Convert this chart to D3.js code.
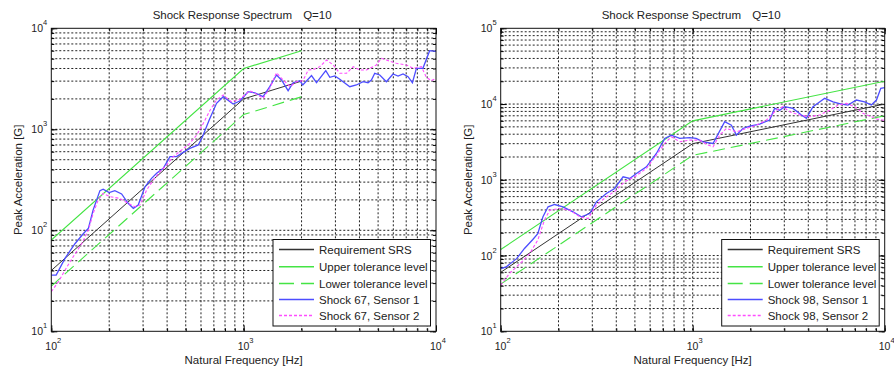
<!DOCTYPE html>
<html lang="en">
<head>
  <meta charset="UTF-8">
  <title>Shock Response Spectrum Q=10</title>
  <style>
    body { margin: 0; background: #fff; }
    text { font-family: Arial, "Liberation Sans", sans-serif; fill: #222; }
  </style>
</head>
<body>
  <svg id="chart" width="894" height="369"></svg>

  <script src="https://d3js.org/d3.v7.min.js"></script>
  <script>
    // ---- left panel (shock 67) : [frequency Hz, acceleration G]
    const reqLeft = [[100, 40], [1000, 2000], [2000, 3000]];
    const upperLeft = [[100, 80], [1000, 4000], [2000, 6000]];
    const lowerLeft = [[100, 28], [1000, 1400], [2000, 2100]];

    const shock67Sensor1 = [
      [100, 36], [106, 36], [118, 53], [133, 74], [147, 93], [156, 105], [165, 159],
      [179, 247], [186, 255], [200, 236], [214, 247], [232, 229], [251, 185], [267, 165],
      [283, 178], [307, 270], [332, 327], [353, 367], [382, 411], [414, 536], [448, 536],
      [476, 578], [525, 648], [581, 700], [611, 845], [662, 1236], [723, 1807], [783, 2104],
      [882, 1778], [955, 1905], [1055, 2356], [1143, 2300], [1262, 2104], [1367, 2643],
      [1482, 3450], [1573, 3075], [1703, 2410], [1808, 2890], [1958, 3027], [2030, 2750],
      [2253, 3400], [2392, 2892], [2673, 3802], [2805, 3273], [2977, 3372], [3160, 3127],
      [3563, 2642], [3857, 2747], [4178, 2958], [4434, 2892], [4616, 3076], [4804, 3584],
      [5100, 3450], [5521, 2958], [5977, 3530], [6350, 3372], [6740, 3530], [7155, 3318],
      [7540, 2892], [7910, 4018], [8550, 4018], [9270, 6000], [10000, 5900]
    ];
    const shock67Sensor2 = [
      [100, 24.7], [109, 31], [118, 40.5], [130, 54.8], [144, 74], [156, 100.7], [165, 147],
      [175.5, 200], [186, 232], [202, 215], [227, 207], [251, 185], [272, 171], [289, 178],
      [313, 250], [339, 315], [367, 380], [398, 443], [430, 536], [476, 623], [525, 726],
      [570, 879], [617, 1145], [670, 1552], [723, 1950], [783, 2188], [863, 1875], [955, 1982],
      [1076, 2410], [1166, 2230], [1262, 2028], [1367, 2547], [1482, 3630], [1573, 3200],
      [1743, 2643], [1877, 2958], [2033, 3027], [2167, 3864], [2334, 3940], [2488, 4170],
      [2698, 4850], [2920, 4336], [3160, 3584], [3428, 3584], [3710, 4170], [4015, 3864],
      [4349, 3864], [4896, 4336], [5200, 5045], [5521, 4850], [6220, 4500], [7015, 4336],
      [7620, 4018], [8395, 4170], [8914, 3273], [9463, 3027], [10000, 3200]
    ];

    // ---- right panel (shock 98)
    const reqRight = [[100, 60], [1000, 3000], [10000, 10000]];
    const upperRight = [[100, 120], [1000, 6000], [10000, 20000]];
    const lowerRight = [[100, 42], [1000, 2100], [10000, 7000]];

    const shock98Sensor1 = [
      [100, 67], [107, 71], [121, 91], [133, 124], [147, 163], [156, 195], [166, 325],
      [176.5, 440], [191, 472], [211, 440], [238, 378], [263, 325], [291, 359], [315, 512],
      [355, 659], [392, 768], [434, 1096], [470, 1042], [509, 1213], [574, 1486], [647, 2228],
      [715, 3515], [774, 3890], [856, 3515], [964, 3600], [1042, 3515], [1132, 3175],
      [1276, 3020], [1468, 5850], [1590, 5270], [1688, 3890], [1827, 4760], [1980, 5120],
      [2233, 5450], [2517, 6150], [2672, 8770], [2838, 8300], [3013, 9230], [3330, 8770],
      [3683, 7160], [3910, 6470], [4233, 9230], [4872, 11900], [5383, 10700], [5947, 10000],
      [6440, 9700], [7120, 11300], [7860, 10700], [8520, 9700], [9060, 11300], [9540, 16100],
      [10000, 16500]
    ];
    const shock98Sensor2 = [
      [100, 40.5], [111, 58], [126, 78], [141.5, 106], [156, 160], [169, 293], [180, 397],
      [203, 418], [229, 397], [258, 325], [285, 308], [315, 462], [355, 596], [400, 729],
      [442, 942], [499, 1096], [574, 1413], [647, 2118], [715, 3020], [774, 3700], [856, 3175],
      [964, 3340], [1086, 3340], [1202, 2870], [1276, 2730], [1383, 3890], [1496, 4760],
      [1688, 4300], [1906, 4760], [2148, 5270], [2421, 6150], [2727, 8300], [2950, 9230],
      [3197, 7930], [3606, 7160], [4065, 6810], [4580, 7160], [5170, 8300], [5715, 9700],
      [6310, 10200], [6980, 9230], [7710, 7540], [8520, 6810], [9230, 6270], [10000, 6100]
    ];

    const xDecades = [100, 1000, 10000];
    const legendNames = ["Requirement SRS", "Upper tolerance level", "Lower tolerance level"];

    const styles = {
      req:   { stroke: "#333", width: 1, dash: null },
      upper: { stroke: "#44e444", width: 1.1, dash: null },
      lower: { stroke: "#44e444", width: 1.1, dash: "12,6" },
      s1:    { stroke: "#4d4dff", width: 1.3, dash: null },
      s2:    { stroke: "#ff4dff", width: 1.1, dash: "3,2" }
    };

    const svg = d3.select("#chart");

    function drawPanel(p) {
      const x = d3.scaleLog().domain([100, 10000]).range([p.left, p.right]);
      const y = d3.scaleLog().domain(p.yDomain).range([p.bottom, p.top]);
      const g = svg.append("g");

      // minor / major values
      const minorsOf = domain => {
        const out = [];
        for (let d = domain[0]; d < domain[1]; d *= 10)
          for (let k = 1; k < 10; k++) out.push(d * k);
        out.push(domain[1]);
        return out;
      };
      const xAll = minorsOf([100, 10000]);
      const yAll = minorsOf(p.yDomain);
      const yDecades = yAll.filter(v => Math.abs(Math.log10(v) % 1) < 1e-9);

      // grid
      g.append("g").selectAll("line")
        .data(xAll.filter(v => v > 100 && v < 10000))
        .join("line")
        .attr("x1", d => x(d)).attr("x2", d => x(d))
        .attr("y1", p.top).attr("y2", p.bottom)
        .attr("stroke", "#222").attr("stroke-width", 1)
        .attr("stroke-dasharray", "2,2");
      g.append("g").selectAll("line")
        .data(yAll.filter(v => v > p.yDomain[0] && v < p.yDomain[1]))
        .join("line")
        .attr("x1", p.left).attr("x2", p.right)
        .attr("y1", d => y(d)).attr("y2", d => y(d))
        .attr("stroke", "#222").attr("stroke-width", 1)
        .attr("stroke-dasharray", "2,2");

      // tick marks on all four sides, inside
      const tickAxes = [
        [d3.axisBottom(x), `translate(0,${p.bottom})`, xAll, xDecades],
        [d3.axisTop(x), `translate(0,${p.top})`, xAll, xDecades],
        [d3.axisLeft(y), `translate(${p.left},0)`, yAll, yDecades],
        [d3.axisRight(y), `translate(${p.right},0)`, yAll, yDecades]
      ];
      tickAxes.forEach(([ax, tr, all, majors]) => {
        g.append("g").attr("transform", tr)
          .call(ax.tickValues(all).tickSize(-3).tickFormat(""))
          .call(s => s.select(".domain").remove());
        g.append("g").attr("transform", tr)
          .call(ax.tickValues(majors).tickSize(-6).tickFormat(""))
          .call(s => s.select(".domain").remove());
      });

      // series
      const line = d3.line().x(d => x(d[0])).y(d => y(d[1]));
      const series = [
        [p.req, styles.req], [p.upper, styles.upper], [p.lower, styles.lower],
        [p.s1, styles.s1], [p.s2, styles.s2]
      ];
      g.append("defs").append("clipPath").attr("id", p.id + "clip")
        .append("rect").attr("x", p.left).attr("y", p.top)
        .attr("width", p.right - p.left).attr("height", p.bottom - p.top);
      const sg = g.append("g").attr("clip-path", `url(#${p.id}clip)`);
      series.forEach(([data, st]) => {
        sg.append("path").datum(data)
          .attr("d", line)
          .attr("fill", "none")
          .attr("stroke", st.stroke)
          .attr("stroke-width", st.width)
          .attr("stroke-dasharray", st.dash);
      });

      // box
      g.append("rect")
        .attr("x", p.left).attr("y", p.top)
        .attr("width", p.right - p.left).attr("height", p.bottom - p.top)
        .attr("fill", "none").attr("stroke", "#111").attr("stroke-width", 1);

      // tick labels 10^n
      xDecades.forEach(v => {
        const t = g.append("text")
          .attr("x", x(v) - 6).attr("y", p.bottom + 19)
          .attr("font-size", 10.5);
        t.append("tspan").text("10");
        t.append("tspan").attr("dy", -7).attr("font-size", 7.5).text(Math.round(Math.log10(v)));
      });
      yDecades.forEach(v => {
        const t = g.append("text")
          .attr("x", p.left - 20).attr("y", y(v) + 4)
          .attr("font-size", 10.5);
        t.append("tspan").text("10");
        t.append("tspan").attr("dy", -7).attr("font-size", 7.5).text(Math.round(Math.log10(v)));
      });

      // titles
      const cx = (p.left + p.right) / 2;
      g.append("text").attr("x", cx - 91).attr("y", 19).attr("font-size", 11.5)
        .text("Shock Response Spectrum");
      g.append("text").attr("x", cx + 59.5).attr("y", 19).attr("font-size", 11.5)
        .text("Q=10");
      g.append("text").attr("x", cx).attr("y", 364).attr("font-size", 11.5)
        .attr("text-anchor", "middle").text("Natural Frequency [Hz]");
      g.append("text")
        .attr("transform", `translate(${p.left - 29},${(p.top + p.bottom) / 2}) rotate(-90)`)
        .attr("font-size", 11.5).attr("text-anchor", "middle")
        .text("Peak Acceleration [G]");

      // legend
      const lx = p.right - 163, ly = 239.5;
      const lg = g.append("g").attr("transform", `translate(${lx},${ly})`);
      lg.append("rect").attr("width", 157.5).attr("height", 86.5)
        .attr("fill", "#fff").attr("stroke", "#111").attr("stroke-width", 1);
      const names = legendNames.concat(p.sensorNames);
      const legStyles = [styles.req, styles.upper, styles.lower, styles.s1, styles.s2];
      const rowY = [10, 27.3, 44, 60, 76];
      names.forEach((n, i) => {
        lg.append("line")
          .attr("x1", 6).attr("x2", 41).attr("y1", rowY[i]).attr("y2", rowY[i])
          .attr("stroke", legStyles[i].stroke)
          .attr("stroke-width", legStyles[i].width + 0.3)
          .attr("stroke-dasharray", i === 2 ? "15,7" : legStyles[i].dash);
        lg.append("text").attr("x", 46).attr("y", rowY[i] + 4)
          .attr("font-size", 11.5).text(n);
      });
    }

    drawPanel({
      id: "left", left: 51.3, right: 436, top: 28.3, bottom: 331.3,
      yDomain: [10, 10000],
      req: reqLeft, upper: upperLeft, lower: lowerLeft,
      s1: shock67Sensor1, s2: shock67Sensor2,
      sensorNames: ["Shock 67, Sensor 1", "Shock 67, Sensor 2"]
    });
    drawPanel({
      id: "right", left: 500.7, right: 884.7, top: 28.3, bottom: 331.3,
      yDomain: [10, 100000],
      req: reqRight, upper: upperRight, lower: lowerRight,
      s1: shock98Sensor1, s2: shock98Sensor2,
      sensorNames: ["Shock 98, Sensor 1", "Shock 98, Sensor 2"]
    });
  </script>
</body>
</html>
